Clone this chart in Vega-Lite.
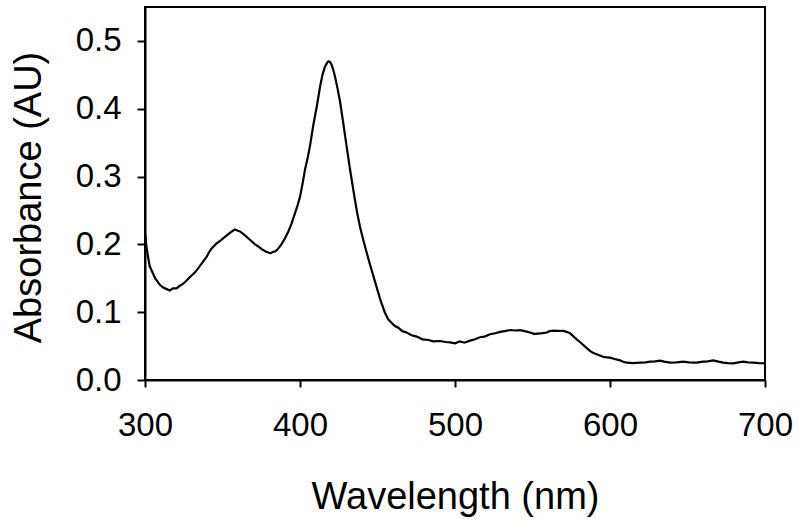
{
  "$schema": "https://vega.github.io/schema/vega-lite/v6.json",
  "width": 620,
  "height": 373,
  "autosize": "none",
  "padding": {"left": 145, "top": 7, "right": 35, "bottom": 143},
  "background": "white",
  "config": {
    "view": {"stroke": "black", "strokeWidth": 2},
    "font": "Liberation Sans"
  },
  "data": {
    "values": [
      {"wl": 300, "abs": 0.218}, {"wl": 301, "abs": 0.195}, {"wl": 303, "abs": 0.168}, {"wl": 306.5, "abs": 0.150},
      {"wl": 309.7, "abs": 0.140}, {"wl": 312, "abs": 0.136}, {"wl": 314, "abs": 0.134}, {"wl": 316, "abs": 0.132},
      {"wl": 318, "abs": 0.135}, {"wl": 320.4, "abs": 0.135}, {"wl": 322.5, "abs": 0.139}, {"wl": 324.7, "abs": 0.142},
      {"wl": 327, "abs": 0.147}, {"wl": 329, "abs": 0.152}, {"wl": 332, "abs": 0.158}, {"wl": 334.4, "abs": 0.165},
      {"wl": 337, "abs": 0.173}, {"wl": 339.8, "abs": 0.182}, {"wl": 341.5, "abs": 0.189}, {"wl": 343, "abs": 0.194},
      {"wl": 346, "abs": 0.201}, {"wl": 348.4, "abs": 0.205}, {"wl": 351, "abs": 0.210}, {"wl": 353.8, "abs": 0.215},
      {"wl": 356, "abs": 0.219}, {"wl": 358, "abs": 0.222}, {"wl": 360, "abs": 0.220}, {"wl": 361.3, "abs": 0.219},
      {"wl": 363.5, "abs": 0.215}, {"wl": 365.6, "abs": 0.211}, {"wl": 368, "abs": 0.206}, {"wl": 371, "abs": 0.200},
      {"wl": 373, "abs": 0.197}, {"wl": 375.3, "abs": 0.193}, {"wl": 377.5, "abs": 0.190}, {"wl": 379.6, "abs": 0.188},
      {"wl": 381, "abs": 0.187}, {"wl": 382.8, "abs": 0.189}, {"wl": 384.5, "abs": 0.190}, {"wl": 386, "abs": 0.194},
      {"wl": 388, "abs": 0.200}, {"wl": 390.3, "abs": 0.209}, {"wl": 392.5, "abs": 0.219}, {"wl": 394.6, "abs": 0.231},
      {"wl": 396.8, "abs": 0.246}, {"wl": 398.5, "abs": 0.258}, {"wl": 400, "abs": 0.270}, {"wl": 401.7, "abs": 0.290},
      {"wl": 403.2, "abs": 0.310}, {"wl": 405, "abs": 0.328}, {"wl": 406.5, "abs": 0.346}, {"wl": 408.6, "abs": 0.376},
      {"wl": 410.8, "abs": 0.403}, {"wl": 412.9, "abs": 0.432}, {"wl": 414.5, "abs": 0.450}, {"wl": 416.1, "abs": 0.462},
      {"wl": 417.5, "abs": 0.468}, {"wl": 418.3, "abs": 0.470}, {"wl": 419.3, "abs": 0.469}, {"wl": 420.4, "abs": 0.465},
      {"wl": 421.5, "abs": 0.457}, {"wl": 422.6, "abs": 0.447}, {"wl": 424.2, "abs": 0.430}, {"wl": 425.8, "abs": 0.411},
      {"wl": 427.9, "abs": 0.379}, {"wl": 430.1, "abs": 0.344}, {"wl": 432.3, "abs": 0.310}, {"wl": 434, "abs": 0.286},
      {"wl": 435.5, "abs": 0.265}, {"wl": 437, "abs": 0.245}, {"wl": 438.7, "abs": 0.226}, {"wl": 441, "abs": 0.205},
      {"wl": 443, "abs": 0.188}, {"wl": 445.2, "abs": 0.170}, {"wl": 448.4, "abs": 0.145}, {"wl": 451.6, "abs": 0.120},
      {"wl": 454.8, "abs": 0.099}, {"wl": 457, "abs": 0.089}, {"wl": 459.2, "abs": 0.084}, {"wl": 461, "abs": 0.080},
      {"wl": 463.4, "abs": 0.077}, {"wl": 466, "abs": 0.072}, {"wl": 468.8, "abs": 0.070}, {"wl": 472, "abs": 0.066},
      {"wl": 475.3, "abs": 0.064}, {"wl": 479, "abs": 0.060}, {"wl": 482.8, "abs": 0.059}, {"wl": 486, "abs": 0.057},
      {"wl": 490.3, "abs": 0.0575}, {"wl": 494, "abs": 0.056}, {"wl": 496.8, "abs": 0.0555}, {"wl": 500, "abs": 0.054},
      {"wl": 503.2, "abs": 0.057}, {"wl": 506, "abs": 0.055}, {"wl": 509.7, "abs": 0.058}, {"wl": 513, "abs": 0.060},
      {"wl": 516.1, "abs": 0.063}, {"wl": 519, "abs": 0.064}, {"wl": 522.6, "abs": 0.0674}, {"wl": 526, "abs": 0.069},
      {"wl": 529, "abs": 0.071}, {"wl": 532, "abs": 0.072}, {"wl": 535.5, "abs": 0.0737}, {"wl": 539, "abs": 0.073},
      {"wl": 541.9, "abs": 0.0735}, {"wl": 545, "abs": 0.072}, {"wl": 548.4, "abs": 0.070}, {"wl": 551, "abs": 0.068},
      {"wl": 553.7, "abs": 0.0685}, {"wl": 556.5, "abs": 0.069}, {"wl": 559.2, "abs": 0.070}, {"wl": 561, "abs": 0.072},
      {"wl": 563.4, "abs": 0.0727}, {"wl": 566.5, "abs": 0.0725}, {"wl": 569.9, "abs": 0.0723}, {"wl": 572, "abs": 0.071},
      {"wl": 574.2, "abs": 0.069}, {"wl": 576.5, "abs": 0.064}, {"wl": 578.5, "abs": 0.060}, {"wl": 580.6, "abs": 0.056},
      {"wl": 582.8, "abs": 0.0516}, {"wl": 585, "abs": 0.047}, {"wl": 587.1, "abs": 0.043}, {"wl": 589, "abs": 0.040},
      {"wl": 591.4, "abs": 0.038}, {"wl": 593.5, "abs": 0.036}, {"wl": 595.7, "abs": 0.034}, {"wl": 598, "abs": 0.0335},
      {"wl": 600, "abs": 0.033}, {"wl": 603, "abs": 0.031}, {"wl": 606.5, "abs": 0.029}, {"wl": 608.5, "abs": 0.027},
      {"wl": 610.8, "abs": 0.0255}, {"wl": 615, "abs": 0.025}, {"wl": 619.4, "abs": 0.0256}, {"wl": 623, "abs": 0.026},
      {"wl": 625.8, "abs": 0.027}, {"wl": 629, "abs": 0.0275}, {"wl": 632.3, "abs": 0.0285}, {"wl": 635, "abs": 0.027},
      {"wl": 638.7, "abs": 0.0256}, {"wl": 643, "abs": 0.026}, {"wl": 647.3, "abs": 0.027}, {"wl": 651, "abs": 0.026},
      {"wl": 655.9, "abs": 0.0256}, {"wl": 660, "abs": 0.027}, {"wl": 663, "abs": 0.0275}, {"wl": 666.6, "abs": 0.029},
      {"wl": 670, "abs": 0.027}, {"wl": 673.1, "abs": 0.0256}, {"wl": 676, "abs": 0.025}, {"wl": 679.5, "abs": 0.0246},
      {"wl": 683, "abs": 0.026}, {"wl": 686, "abs": 0.027}, {"wl": 689, "abs": 0.026}, {"wl": 692.5, "abs": 0.0256},
      {"wl": 696, "abs": 0.025}, {"wl": 700, "abs": 0.0246}
    ]
  },
  "mark": {"type": "line", "color": "black", "strokeWidth": 2.2, "clip": true},
  "encoding": {
    "x": {
      "field": "wl", "type": "quantitative",
      "scale": {"domain": [300, 700], "nice": false, "zero": false},
      "axis": {
        "title": "Wavelength (nm)",
        "values": [300, 400, 500, 600, 700],
        "format": "d",
        "grid": false,
        "domainColor": "black", "domainWidth": 2,
        "tickColor": "black", "tickWidth": 2, "tickSize": 7,
        "labelFont": "Liberation Sans", "labelFontSize": 33, "labelColor": "black",
        "labelPadding": 22, "labelFlush": false, "labelOverlap": false,
        "titleFont": "Liberation Sans", "titleFontSize": 38, "titleFontWeight": "normal", "titleColor": "black",
        "titleBaseline": "alphabetic", "titleY": 128, "titleAlign": "center"
      }
    },
    "y": {
      "field": "abs", "type": "quantitative",
      "scale": {"domain": [0, 0.55], "nice": false},
      "axis": {
        "title": "Absorbance (AU)",
        "values": [0, 0.1, 0.2, 0.3, 0.4, 0.5],
        "format": ".1f",
        "grid": false,
        "domainColor": "black", "domainWidth": 2,
        "tickColor": "black", "tickWidth": 2, "tickSize": 8,
        "labelFont": "Liberation Sans", "labelFontSize": 33, "labelColor": "black",
        "labelPadding": 16, "labelFlush": false, "labelOverlap": false,
        "titleFont": "Liberation Sans", "titleFontSize": 38, "titleFontWeight": "normal", "titleColor": "black",
        "titleAngle": -90, "titleBaseline": "alphabetic", "titleX": -105, "titleY": 190, "titleAlign": "center"
      }
    }
  }
}
